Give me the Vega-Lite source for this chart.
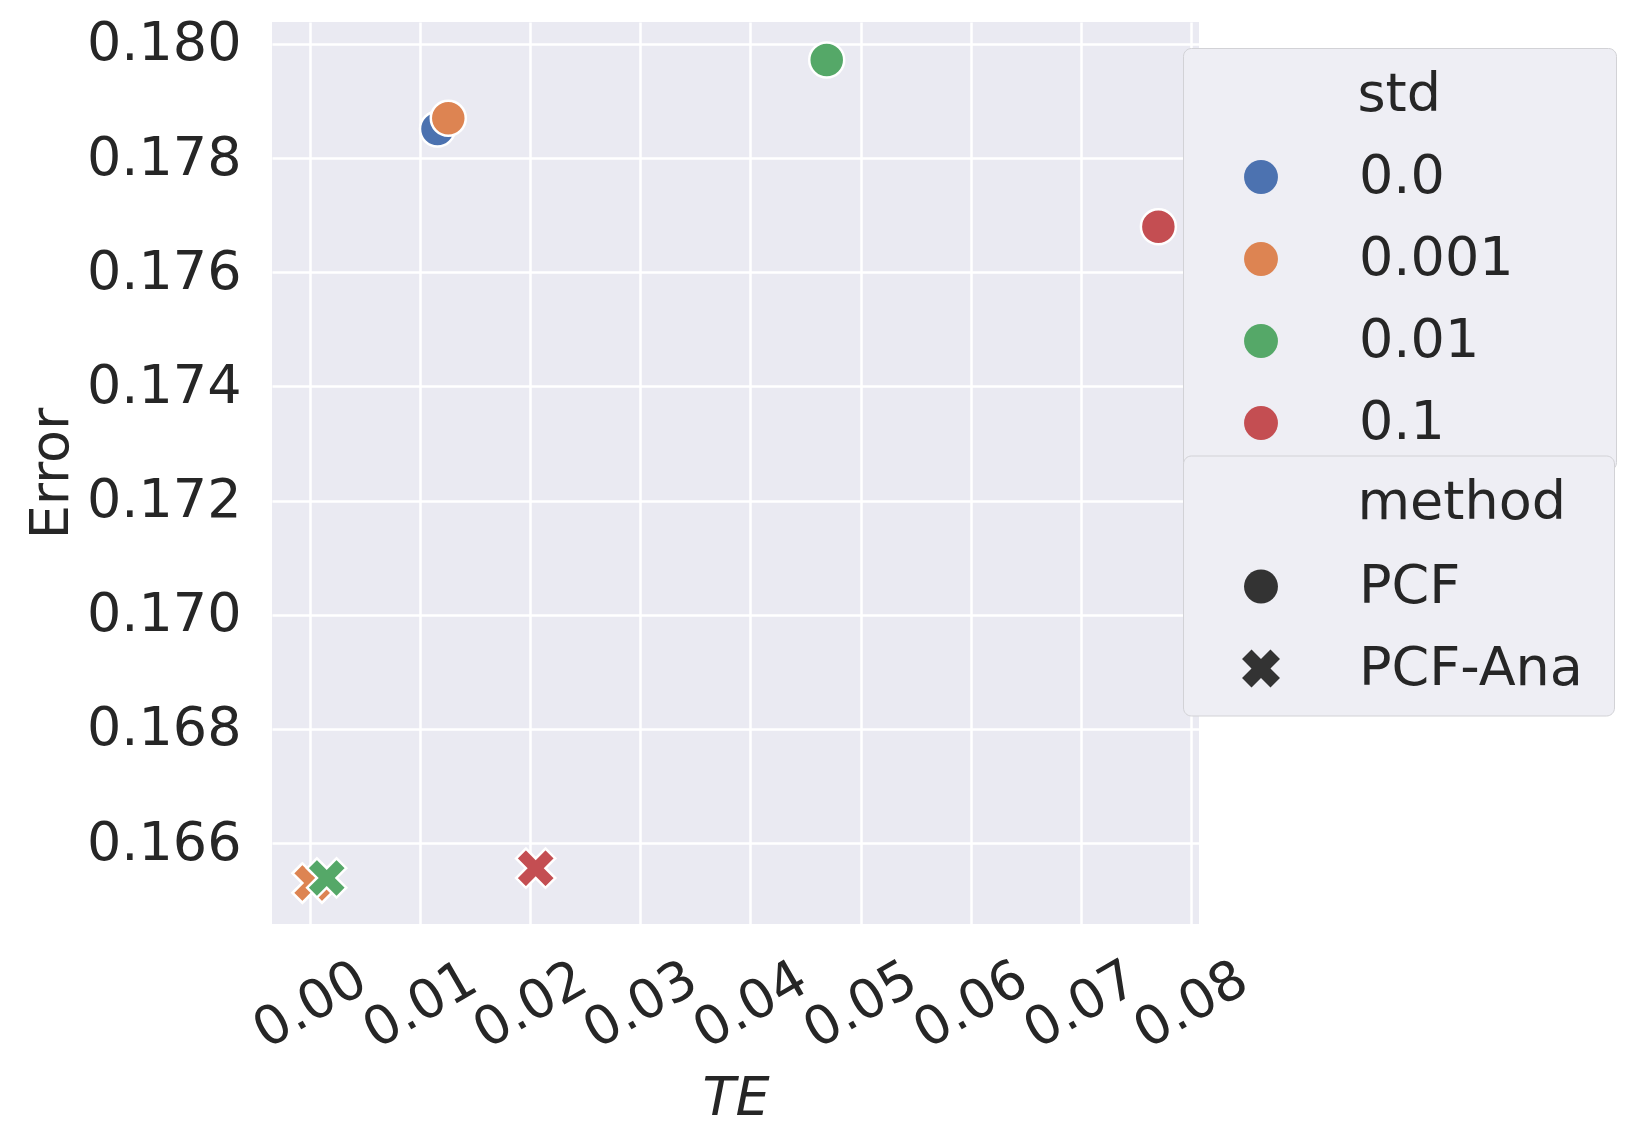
{
  "$schema": "https://vega.github.io/schema/vega-lite/v6.json",
  "autosize": {"type": "none"},
  "width": 927,
  "height": 902,
  "padding": {"left": 272, "top": 22, "right": 432, "bottom": 222},
  "background": "white",
  "config": {
    "font": "DejaVu Sans",
    "view": {"fill": "#EAEAF2", "stroke": null},
    "axis": {
      "domain": false,
      "ticks": false,
      "tickSize": 0,
      "grid": true,
      "gridColor": "white",
      "gridWidth": 2.5,
      "gridOpacity": 1,
      "labelFont": "DejaVu Sans",
      "labelFontSize": 54,
      "labelColor": "#262626",
      "titleFont": "DejaVu Sans",
      "titleFontSize": 54,
      "titleFontWeight": "normal",
      "titleColor": "#262626"
    },
    "legend": {
      "labelFont": "DejaVu Sans",
      "labelFontSize": 54,
      "labelColor": "#262626",
      "labelLimit": 600,
      "titleLimit": 700,
      "titleFont": "DejaVu Sans",
      "titleFontSize": 54,
      "titleFontWeight": "normal",
      "titleColor": "#262626",
      "fillColor": "#EEEEF4",
      "strokeColor": "#D2D2D6",
      "cornerRadius": 8,
      "padding": 20,
      "symbolSize": 1150,
      "symbolStrokeWidth": 0,
      "symbolOffset": 31,
      "labelOffset": 71,
      "rowPadding": 28,
      "titlePadding": 28,
      "orient": "none"
    }
  },
  "data": {
    "values": [
      {"method": "PCF", "std": "0.0", "TE": 0.01158, "Error": 0.17851},
      {"method": "PCF", "std": "0.001", "TE": 0.01256, "Error": 0.17870},
      {"method": "PCF", "std": "0.01", "TE": 0.04693, "Error": 0.17972},
      {"method": "PCF", "std": "0.1", "TE": 0.07705, "Error": 0.17680},
      {"method": "PCF-Ana", "std": "0.0", "TE": 0.00020, "Error": 0.16530},
      {"method": "PCF-Ana", "std": "0.001", "TE": 0.00020, "Error": 0.16530},
      {"method": "PCF-Ana", "std": "0.01", "TE": 0.00152, "Error": 0.16539},
      {"method": "PCF-Ana", "std": "0.1", "TE": 0.02050, "Error": 0.16556}
    ]
  },
  "mark": {"type": "point", "filled": true, "size": 1225, "stroke": "white", "strokeWidth": 2.5, "opacity": 1},
  "encoding": {
    "x": {
      "field": "TE",
      "type": "quantitative",
      "scale": {"domain": [-0.00345, 0.08074], "nice": false, "zero": false},
      "axis": {
        "title": "TE",
        "titleFontStyle": "italic",
        "titlePadding": 13,
        "values": [0, 0.01, 0.02, 0.03, 0.04, 0.05, 0.06, 0.07, 0.08],
        "format": ".2f",
        "labelAngle": -30,
        "labelAlign": "center",
        "labelBaseline": "middle",
        "labelPadding": 81,
        "labelOverlap": false,
        "labelFlush": false
      }
    },
    "y": {
      "field": "Error",
      "type": "quantitative",
      "scale": {"domain": [0.164583, 0.180385], "nice": false, "zero": false},
      "axis": {
        "title": "Error",
        "titlePadding": 8,
        "values": [0.166, 0.168, 0.17, 0.172, 0.174, 0.176, 0.178, 0.18],
        "format": ".3f",
        "labelPadding": 31,
        "labelOverlap": false,
        "labelFlush": false
      }
    },
    "color": {
      "field": "std",
      "type": "nominal",
      "scale": {"domain": ["0.0", "0.001", "0.01", "0.1"], "range": ["#4C72B0", "#DD8452", "#55A868", "#C44E52"]},
      "legend": {"title": "\u200b\u00a0\u00a0\u00a0\u00a0\u00a0\u00a0\u00a0\u00a0\u00a0std\u00a0\u00a0\u00a0\u00a0\u00a0\u00a0\u00a0\u00a0\u00a0\u200b", "legendX": 911, "legendY": 26, "symbolType": "circle", "zindex": 1}
    },
    "shape": {
      "field": "method",
      "type": "nominal",
      "scale": {"domain": ["PCF", "PCF-Ana"], "range": ["circle", "M1.12,-0.56L0.56,0L1.12,0.56L0.56,1.12L0,0.56L-0.56,1.12L-1.12,0.56L-0.56,0L-1.12,-0.56L-0.56,-1.12L0,-0.56L0.56,-1.12Z"]},
      "legend": {"title": "\u200b\u00a0\u00a0\u00a0\u00a0\u00a0\u00a0\u00a0\u00a0\u00a0method\u00a0\u2009\u200b", "legendX": 911, "legendY": 433.5, "titlePadding": 30, "symbolFillColor": "#333333", "symbolStrokeWidth": 0, "zindex": 2}
    }
  }
}
